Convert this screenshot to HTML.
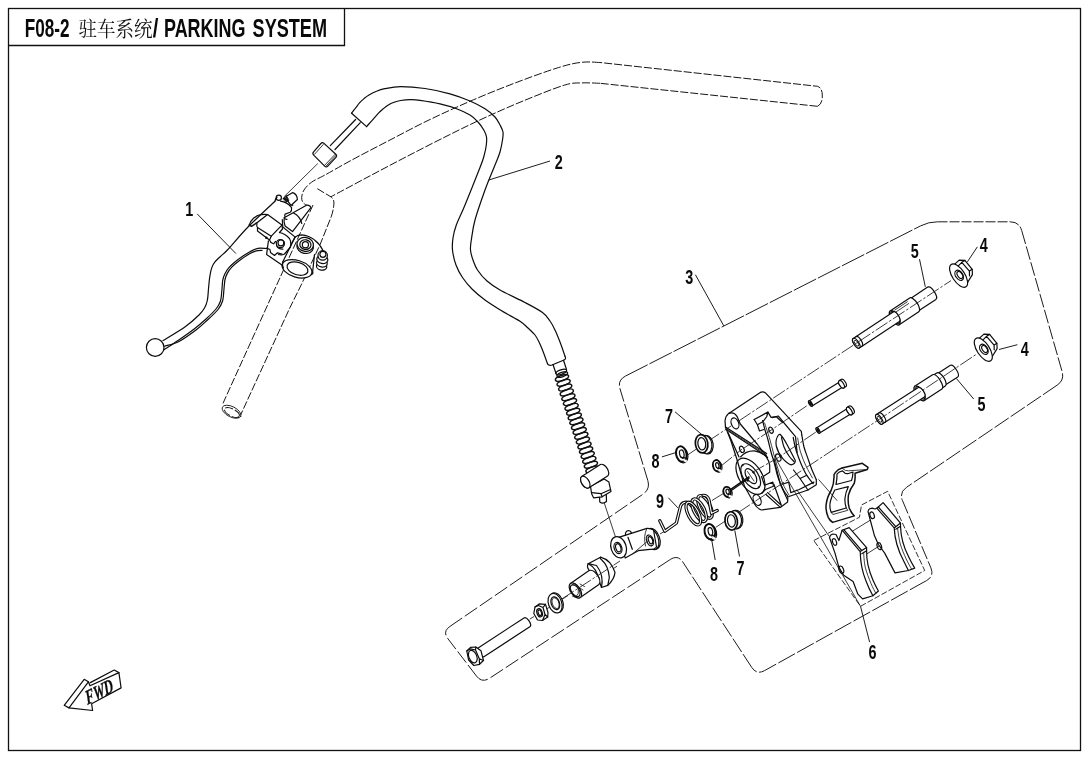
<!DOCTYPE html>
<html><head><meta charset="utf-8"><title>F08-2 PARKING SYSTEM</title>
<style>
html,body{margin:0;padding:0;background:#fff;}
body{width:1090px;height:760px;overflow:hidden;font-family:"Liberation Sans",sans-serif;}
svg{display:block;position:absolute;left:0;top:0;will-change:transform;}
.s{fill:none;stroke:#0c0c0c;stroke-width:1.2;stroke-linecap:round;stroke-linejoin:round;}
.b{fill:none;stroke:#111;stroke-width:1.5;stroke-linecap:round;stroke-linejoin:round;}
.t{fill:none;stroke:#1a1a1a;stroke-width:.85;stroke-linecap:round;stroke-linejoin:round;}
.w{fill:#fff;}
.k{fill:#111;}
.fr{fill:none;stroke:#111;stroke-width:1.3;}
.hb{fill:none;stroke:#151515;stroke-width:1;stroke-dasharray:8 2;}
.bd{fill:none;stroke:#1c1c1c;stroke-width:1;}
.pd{fill:none;stroke:#1a1a1a;stroke-width:.9;stroke-dasharray:6 2;}
.cl{fill:none;stroke:#1a1a1a;stroke-width:.85;stroke-dasharray:14 2 2.5 2;}
.ld{fill:none;stroke:#111;stroke-width:.95;}
text{font-family:"Liberation Sans",sans-serif;font-weight:bold;fill:#0a0a0a;}
.n{font-size:21px;}
.ti{font-size:26px;}
</style></head><body>
<svg width="1090" height="760" viewBox="0 0 1090 760">
<rect x="0" y="0" width="1090" height="760" fill="#fff"/>

<g id="frame">
<rect class="fr" x="8.5" y="8.5" width="1072" height="742"/>
<path class="fr" d="M8.5,45.5H344.5V8.5"/>
<text class="ti" x="24.8" y="36.7" textLength="44.8" lengthAdjust="spacingAndGlyphs">F08-2</text>
<text x="78.6" y="36.2" style="font-family:'Liberation Serif','Noto Serif CJK SC',serif;font-weight:normal;font-size:21px;fill:#111" textLength="74" lengthAdjust="spacingAndGlyphs">驻车系统</text>
<text class="ti" x="152.8" y="36.7" textLength="5.6" lengthAdjust="spacingAndGlyphs">/</text>
<text class="ti" x="164" y="36.7" textLength="81.4" lengthAdjust="spacingAndGlyphs">PARKING</text>
<text class="ti" x="252.6" y="36.7" textLength="74.4" lengthAdjust="spacingAndGlyphs">SYSTEM</text>
</g>
<g id="handlebar">
<path class="hb" d="M817.5,106.3 Q822.5,104 822.3,96 Q822.5,88 817.5,86.3 L600,62.5"/>
<path class="hb" d="M600,62.5C597,62.5 588.7,61.4 581.8,62.3C574.9,63.1 569.5,64.1 558.4,67.6C547.3,71 529.2,77.6 515,83C500.8,88.4 487.4,93.8 473.2,99.9C459,106 444.2,112.7 430,119.5C415.8,126.3 401.4,134.1 388.1,141C374.8,147.9 360.5,155.3 350,161C339.5,166.7 331.4,171.5 325,175C318.6,178.5 315.2,179.6 311.7,182.1C308.2,184.6 305.7,187.4 304,190C302.3,192.6 301.9,195.4 301.7,197.5C301.5,199.6 302.1,201.2 303,202.5C303.9,203.8 306.3,205 307,205.5"/>
<path class="hb" d="M817.5,106.3 L600,83.3"/>
<path class="hb" d="M600,83.3C597,83.2 587.8,82.6 581.8,82.9C575.8,83.2 574,82.2 564.2,85.2C554.4,88.2 536.7,95.4 523,101C509.3,106.6 495.5,112.8 482,119C468.5,125.2 455.2,131.9 442,138.5C428.8,145.1 415.5,152 402.8,158.6C390.1,165.2 378,171.6 366,178C354,184.4 336.7,193.7 330.8,196.8"/>
<path class="hb" d="M317.3,188.7 L331.2,197 Q334.5,200 333.9,204 Q333.5,210 331.2,216.8 L320.1,244.5 L301.6,284.1 L290,307.5 L240.5,415.2"/>
<path class="hb" d="M313,205 L223,403.3"/>
<ellipse class="t" cx="231.6" cy="411.8" rx="10.3" ry="5.2" transform="rotate(27 231.6 411.8)"/>
<ellipse class="hb" cx="231.9" cy="412.5" rx="8.2" ry="3.6" transform="rotate(27 231.9 412.5)"/>
</g>
<g id="cable">
<path class="s" d="M351.6,113.2C352.3,112.3 354.3,109.7 355.6,108C356.9,106.3 358.1,104.5 359.5,102.9C360.9,101.3 362.4,99.9 364,98.6C365.6,97.3 366.9,96.2 369,95C371.1,93.8 373.9,92.3 376.5,91.3C379.1,90.2 380.8,89.5 384.8,88.7C388.8,87.9 393.9,86.6 400.6,86.6C407.3,86.6 416.8,87.3 425,88.5C433.2,89.7 442.5,91.7 450,93.8C457.5,95.9 464.2,98.5 470,101C475.8,103.5 480.8,106.1 485,108.8C489.2,111.5 492.5,114.3 495,117C497.5,119.7 498.7,122.5 500,125C501.3,127.5 502.6,129.5 503,132C503.4,134.5 503,136.7 502.5,140C502,143.3 501.2,147.8 500,152C498.8,156.2 497.5,158.7 495,165C492.5,171.3 488.3,180.8 485,190C481.7,199.2 477.3,211.7 475,220C472.7,228.3 472.1,235 471.3,240C470.6,245 470.2,246.7 470.5,250C470.8,253.3 471.8,256.7 473,260C474.2,263.3 475.2,266.5 477.5,270C479.8,273.5 483.2,277.7 487,281C490.8,284.3 493.7,286.4 500,290C506.3,293.6 517.9,298.8 525,302.5C532.1,306.2 538.3,309.4 542.5,312.5C546.7,315.6 547.9,318.1 550,321C552.1,323.9 553.3,326.5 555,330C556.7,333.5 558.3,337.6 560,342C561.7,346.4 564.2,353.9 565,356.3"/>
<path class="s" d="M366.6,126.6C367.6,125.5 370.6,122 372.6,119.8C374.6,117.6 376.8,115 378.5,113.2C380.2,111.4 381.4,110.3 383,109C384.6,107.7 386.1,106.4 387.9,105.3C389.7,104.2 391.9,103.1 394,102.3C396.1,101.5 397.9,100.9 400.6,100.5C403.3,100.1 406.8,99.7 410,99.7C413.2,99.7 415,99.6 420,100.3C425,101 434,102.4 440,103.8C446,105.2 451,106.6 456,108.5C461,110.4 466.3,112.8 470,115C473.7,117.2 475.7,119.5 478,122C480.3,124.5 482.4,127.5 483.8,130C485.2,132.5 486.1,134.5 486.5,137C486.9,139.5 486.7,141.8 486.3,145C485.9,148.2 485.1,152.2 484,156C482.9,159.8 483.2,159.3 480,167.5C476.8,175.7 468.9,195.4 465,205C461.1,214.6 458.3,219.5 456.3,225C454.3,230.5 453.6,233.8 453,238C452.4,242.2 452,245.5 452.5,250C453,254.5 454.3,260.4 456,265C457.7,269.6 459.8,273.5 462.5,277.5C465.2,281.5 468.2,285.2 472,289C475.8,292.8 480,296.3 485,300C490,303.7 496.2,307.4 502,311C507.8,314.6 515.7,318.5 520,321.3C524.3,324.1 525.5,325.7 528,328C530.5,330.3 533.2,332.7 535,335C536.8,337.3 537.8,339.5 539,342C540.2,344.5 541.1,346.4 542.5,350C543.9,353.6 546.7,361.5 547.5,363.8"/>
<path class="s" d="M351.6,113.2 L366.6,126.6"/>
<path class="s" d="M547.5,363.8 Q549,366 552,365 L564,360 Q566.5,359 565,356.3"/>
<path class="s" d="M553,364.5 L556,373.5 M563.5,360.3 L566.5,369.5"/>
<ellipse class="s" cx="561.3" cy="372" rx="5.6" ry="2.2" transform="rotate(-19 561.3 372)"/>
<ellipse class="s" cx="562.3" cy="374.5" rx="5.6" ry="2.2" transform="rotate(-19 562.3 374.5)"/>
<path class="s" d="M355.6,119.5 L330.3,145.6"/>
<path class="s" d="M360.3,122.7 L335,149.5"/>
<path class="s w" d="M313.7,155.1 Q312.1,153.5 313.6,151.9 L320.9,143.5 Q322.4,141.9 324,143.4 L335.8,154.3 Q337.4,155.8 335.9,157.4 L327.8,166.1 Q326.3,167.7 324.7,166.1 Z"/>
<path class="t" d="M314.6,154.2 L323.3,144.5 M324.2,165.8 L335,154.4 M325.6,166.6 L336,155.3"/>
<path class="t" d="M317.5,163.8 L284.5,196.3"/>
</g>
<g id="cspring">
<ellipse class="b" cx="562" cy="378" rx="6.9" ry="2.6" transform="rotate(-19 562 378)"/>
<ellipse class="b" cx="563.6" cy="382.8" rx="6.9" ry="2.6" transform="rotate(-19 563.6 382.8)"/>
<ellipse class="b" cx="565.2" cy="387.6" rx="6.9" ry="2.6" transform="rotate(-19 565.2 387.6)"/>
<ellipse class="b" cx="566.8" cy="392.4" rx="6.9" ry="2.6" transform="rotate(-19 566.8 392.4)"/>
<ellipse class="b" cx="568.4" cy="397.3" rx="6.9" ry="2.6" transform="rotate(-19 568.4 397.3)"/>
<ellipse class="b" cx="570" cy="402.1" rx="6.9" ry="2.6" transform="rotate(-19 570 402.1)"/>
<ellipse class="b" cx="571.6" cy="406.9" rx="6.9" ry="2.6" transform="rotate(-19 571.6 406.9)"/>
<ellipse class="b" cx="573.2" cy="411.7" rx="6.9" ry="2.6" transform="rotate(-19 573.2 411.7)"/>
<ellipse class="b" cx="574.8" cy="416.5" rx="6.9" ry="2.6" transform="rotate(-19 574.8 416.5)"/>
<ellipse class="b" cx="576.4" cy="421.3" rx="6.9" ry="2.6" transform="rotate(-19 576.4 421.3)"/>
<ellipse class="b" cx="578.1" cy="426.2" rx="6.9" ry="2.6" transform="rotate(-19 578.1 426.2)"/>
<ellipse class="b" cx="579.7" cy="431" rx="6.9" ry="2.6" transform="rotate(-19 579.7 431)"/>
<ellipse class="b" cx="581.3" cy="435.8" rx="6.9" ry="2.6" transform="rotate(-19 581.3 435.8)"/>
<ellipse class="b" cx="582.9" cy="440.6" rx="6.9" ry="2.6" transform="rotate(-19 582.9 440.6)"/>
<ellipse class="b" cx="584.5" cy="445.4" rx="6.9" ry="2.6" transform="rotate(-19 584.5 445.4)"/>
<ellipse class="b" cx="586.1" cy="450.2" rx="6.9" ry="2.6" transform="rotate(-19 586.1 450.2)"/>
<ellipse class="b" cx="587.7" cy="455.1" rx="6.9" ry="2.6" transform="rotate(-19 587.7 455.1)"/>
<ellipse class="b" cx="589.3" cy="459.9" rx="6.9" ry="2.6" transform="rotate(-19 589.3 459.9)"/>
<ellipse class="b" cx="590.9" cy="464.7" rx="6.9" ry="2.6" transform="rotate(-19 590.9 464.7)"/>
<ellipse class="b" cx="592.5" cy="469.5" rx="6.9" ry="2.6" transform="rotate(-19 592.5 469.5)"/>
</g>
<g id="cfit">
<path class="s w" d="M590.5,486.3 L591.6,493.7 L593.7,497.9 L602.1,496.8 L611,491.6 L608.9,482.1 L604.2,479Z"/>
<path class="s" d="M591.6,492.6 L601,493.7 L610.5,489.5 M601,493.7 L602.1,496.8"/>
<path class="s" d="M599.5,497.3 L599.8,502 Q603,504.3 606.5,501.6 L606.3,494.6"/>
<path class="s w" d="M588.9,487.8 L607.6,476 A3.7,6.7 -32.3 0 0 600.4,464.6 L581.7,476.4 A3.7,6.7 -32.3 0 0 588.9,487.8 Z"/>
<ellipse class="s w" cx="585.3" cy="482.1" rx="3.7" ry="6.7" transform="rotate(-32.3 585.3 482.1)"/>
<path class="t" d="M604.4,503.4 L615.5,537"/>
</g>
<g id="lever">
<path class="s" d="M275,201.2C270.5,205.5 255.9,218.9 248,227C240.1,235.1 231.9,245.2 227.4,250C222.9,254.8 222.9,254.1 220.8,256.1C218.7,258.1 216.3,260.3 214.8,262.1C213.3,263.9 212.7,265.3 212,267.1C211.3,268.9 210.8,270.9 210.4,273.1C210,275.3 209.6,277.5 209.3,280.3C209,283.1 208.7,286.6 208.4,290C208.1,293.4 208,297.5 207.3,300.5C206.7,303.5 205.9,305.6 204.5,308C203.1,310.4 202.2,311.9 199,315C195.8,318.1 191.2,322.5 185.2,326.8C179.2,331.1 166.8,338.3 163.1,340.6"/>
<path class="s" d="M266.5,248.5C265.1,248.5 260.8,247.8 258,248.3C255.2,248.8 252.6,250.3 250,251.7C247.4,253.1 245,254.8 242.3,256.6C239.6,258.4 236.3,260.8 234,262.7C231.7,264.6 230.1,266.3 228.5,268.2C226.9,270.1 225.7,272.2 224.7,274.2C223.7,276.2 223.2,277.7 222.7,280.3C222.2,282.9 222.3,286.6 221.9,290C221.5,293.4 221.5,297.8 220.5,301C219.5,304.2 218.4,306 216,309C213.6,312 209.6,315.7 206,319C202.4,322.3 199.2,325.1 194.5,328.7C189.8,332.3 183.1,337 178,340.5C172.9,344 166.3,348.2 164,349.8"/>
<path class="s" d="M262,250.4C260.9,250.5 257.5,250.7 255.5,251.2C253.5,251.7 252.7,252 250,253.6C247.3,255.2 242.5,258.2 239.5,260.5C236.5,262.8 233.8,265 231.8,267.1C229.8,269.2 228.5,271 227.4,273.1C226.3,275.2 225.6,276.7 225,279.5C224.4,282.3 224.3,286.4 223.9,290C223.5,293.6 223.6,297.8 222.6,301C221.6,304.2 220.5,306.3 218,309.5C215.5,312.7 211.2,316.6 207.5,320C203.8,323.4 200.8,326.4 196,330C191.2,333.6 184.2,338.8 179,341.5C173.8,344.2 166.9,345.4 164.5,346.2"/>
<circle class="s w" cx="155.2" cy="347.5" r="8.8"/>
<path class="s" d="M249.2,225.1 Q250.5,221 253.5,218.3 L257.5,215.5 Q262,214 267.6,214.5"/>
<path class="b" d="M249.2,225.1 L251.5,226.3 L256.5,223"/>
<path class="s w" d="M257,222.8 L267.6,214.5 L281.9,225.1 L271.3,236.2 L257.5,227.5 Q256.3,226 257,222.8Z"/>
<path class="s" d="M257.5,227.5 L257.5,231 L269.5,240 L271.3,236.2 M269.5,240 L271,242.5"/>
<path class="s" d="M281.9,225.1 L282.5,229 L279.5,232.5"/>
<circle class="k" cx="266.3" cy="237.8" r="1.3"/>
<circle class="s" cx="278.8" cy="197.7" r="2.6"/>
<path class="s" d="M275,201.2 Q275.2,198.5 277,197.3"/>
<path class="s" d="M280.5,201.2 Q287,202 291.6,207.6 Q292,211 290.2,212.2 L285.1,214.1 Q284,216 285.6,217.3"/>
<path class="s" d="M283.5,198.3 Q289.5,201 292.8,205.5"/>
<path class="s w" d="M286.4,196.3 L292.8,192.6 Q297,194 297.4,199.5 L291,205.5 Q287.5,202 286.4,196.3Z"/>
<path class="s" d="M283.2,198.8 L286.6,195.9 M284.1,199.9 L287.3,197.3 M284.9,201.1 L288,198.7 M285.7,202.2 L288.7,200"/>
<path class="s w" d="M284.2,217.8 L306.5,205.2 Q309.8,204.8 310.9,207.6 L292.5,231.6 L285.1,226 Q283.6,222 284.2,217.8Z"/>
<path class="s" d="M293.5,213 Q300,216 301.8,223.5"/>
<path class="s" d="M284.2,217.8 Q285,219.5 287,219.3"/>
<path class="s" d="M282.3,219.5 L282.8,227 L295.2,237.1"/>
<path class="s" d="M279.5,232.5 Q285,233.5 289.5,238.5 Q291.5,242 290.5,247 L284.5,254 Q281.5,255.5 278.5,254.5"/>
<path class="s" d="M268.4,240.8 L266.6,254.6 L282.7,265.6"/>
<path class="s" d="M266.6,248.1 L270,249.5 L270.5,252.5 L274.5,255.5 L277.5,252.8 L282,254"/>
<path class="s" d="M271,242.5 L273.5,243.8 L275.5,241.5"/>
<circle class="s w" cx="280.4" cy="243.6" r="4.1"/>
<path class="s" d="M276.5,245.5 Q278,249.3 282.8,249.2"/>
<circle class="s" cx="280.9" cy="242.9" r="2.9"/>
<path class="s" d="M282.7,262 L295.1,237.1 Q298,234.8 301.6,234.8 Q309,235.5 314.5,239.9 Q320,244 322.7,250 L322.7,252 M314.5,254.6 L312.6,272.1"/>
<path class="s" d="M295.1,237.1 L290.8,245"/>
<ellipse class="s w" cx="297" cy="268.8" rx="15.4" ry="8.4" transform="rotate(17 297 268.8)"/>
<ellipse class="s" cx="297.5" cy="268.6" rx="10.8" ry="6.2" transform="rotate(17 297.5 268.6)"/>
<path class="s" d="M282.7,262 Q282,266 283.5,268"/>
<path class="s" d="M311.5,274.5 Q313.5,273.5 312.6,272.1"/>
<ellipse class="s w" cx="305.2" cy="246.8" rx="8.3" ry="6.6" transform="rotate(10 305.2 246.8)"/>
<ellipse class="s w" cx="305.2" cy="244.4" rx="8.3" ry="6.9" transform="rotate(10 305.2 244.4)"/>
<ellipse class="s" cx="305.4" cy="244.6" rx="5.6" ry="4.8" transform="rotate(10 305.4 244.6)"/>
<circle class="s" cx="305.4" cy="244.7" r="3.1"/>
<ellipse class="s w" cx="321.6" cy="266.5" rx="5.2" ry="3.6" transform="rotate(10 321.6 266.5)"/>
<ellipse class="s w" cx="321.9" cy="263.2" rx="5.4" ry="3.8" transform="rotate(10 321.9 263.2)"/>
<ellipse class="s w" cx="322.3" cy="259.5" rx="5.6" ry="4" transform="rotate(10 322.3 259.5)"/>
<circle class="s w" cx="322.7" cy="255.4" r="4.7"/>
<circle class="s" cx="322.9" cy="254.3" r="3"/>
</g>
<g id="boundary">
<path class="bd" style="stroke-dasharray:25 2" d="M625.4,376.1 L920.5,225.9 Q928.5,221.8 937.5,221.8"/>
<path class="bd" style="stroke-dasharray:10 2" d="M937.5,221.8 L1010.2,221.8 Q1019.2,221.8 1021.7,230.5"/>
<path class="bd" style="stroke-dasharray:14 2.5" d="M1021.7,230.5 L1062.1,371.5 Q1064.6,380.2 1057.1,385.2"/>
<path class="bd" style="stroke-dasharray:17 2.5" d="M1057.1,385.2 L906.5,487.3 Q899,492.3 902.5,500.6"/>
<path class="bd" style="stroke-dasharray:14 2.5" d="M902.5,500.6 L930.9,567.9 Q934.4,576.2 926.5,580.6"/>
<path class="bd" style="stroke-dasharray:19 2.5" d="M926.5,580.6 L764.6,670.6 Q756.7,675 751.8,667.5"/>
<path class="bd" style="stroke-dasharray:16 2.5" d="M751.8,667.5 L682.8,562 Q677.9,554.5 670.4,559.4"/>
<path class="bd" style="stroke-dasharray:15 3.2" d="M670.4,559.4 L489.5,678.3 Q482,683.2 476.5,676.1"/>
<path class="bd" style="stroke-dasharray:14 3" d="M476.5,676.1 L447.9,638.7 Q442.4,631.6 449.8,626.5"/>
<path class="bd" style="stroke-dasharray:15 3.2" d="M449.8,626.5 L643,494.2 Q650.4,489.1 647.8,480.5"/>
<path class="bd" style="stroke-dasharray:14 2.5" d="M647.8,480.5 L620,388.8 Q617.4,380.2 625.4,376.1"/>
</g>
<g id="pins5">
<path class="s w" d="M918.3,311 L935.9,299.4 A3.1,7.4 -33.5 0 0 927.7,287.1 L910.2,298.7 A3.1,7.4 -33.5 0 0 918.3,311 Z"/>
<path class="s w" d="M899.2,324.7 L918.8,311.7 A3.4,8.2 -33.5 0 0 909.7,298 L890.1,311 A3.4,8.2 -33.5 0 0 899.2,324.7 Z"/>
<ellipse class="s w" cx="894.7" cy="317.8" rx="3.4" ry="8.2" transform="rotate(-33.5 894.7 317.8)"/>
<ellipse class="s" cx="895.5" cy="317.3" rx="2.9" ry="6.9" transform="rotate(-33.5 895.5 317.3)"/>
<path class="s w" d="M859.4,347.9 L899.4,321.4 A2.4,5.6 -33.5 0 0 893.2,312 L853.2,338.5 A2.4,5.6 -33.5 0 0 859.4,347.9 Z"/>
<ellipse class="s w" cx="856.3" cy="343.2" rx="2.4" ry="5.6" transform="rotate(-33.5 856.3 343.2)"/>
<ellipse class="t" cx="856.5" cy="343.2" rx="1.5" ry="3.4" transform="rotate(-33.5 856.5 343.2)"/>
<path class="s" d="M855.9,336.7 A2.4,5.6 -33.5 0 1 862.1,346.1"/>
<path class="t" d="M894.8,310.1 L907.3,301.8"/>
<path class="t" d="M896.1,311.9 L908.6,303.6"/>
<path class="s w" d="M944.8,385.3 L957.8,376.9 A2.9,6.9 -32.8 0 0 950.4,365.3 L937.3,373.7 A2.9,6.9 -32.8 0 0 944.8,385.3 Z"/>
<path class="s w" d="M941.5,388.5 L945.3,386 A3.3,7.8 -32.8 0 0 936.8,372.9 L933.1,375.3 A3.3,7.8 -32.8 0 0 941.5,388.5 Z"/>
<path class="s w" d="M924.3,400.5 L941.9,389.1 A3.6,8.6 -32.8 0 0 932.6,374.7 L915,386.1 A3.6,8.6 -32.8 0 0 924.3,400.5 Z"/>
<ellipse class="s w" cx="919.6" cy="393.3" rx="3.6" ry="8.6" transform="rotate(-32.8 919.6 393.3)"/>
<ellipse class="s" cx="920.4" cy="392.8" rx="3" ry="7.2" transform="rotate(-33 920.4 392.8)"/>
<path class="s w" d="M882.3,424 L924.4,396.9 A2.4,5.6 -32.8 0 0 918.3,387.5 L876.3,414.6 A2.4,5.6 -32.8 0 0 882.3,424 Z"/>
<ellipse class="s w" cx="879.3" cy="419.3" rx="2.4" ry="5.6" transform="rotate(-32.8 879.3 419.3)"/>
<ellipse class="t" cx="879.5" cy="419.3" rx="1.5" ry="3.4" transform="rotate(-33 879.5 419.3)"/>
<path class="s" d="M878.9,412.9 A2.4,5.6 -33 0 1 885.1,422.3"/>
</g>
<g id="nuts4">
<path class="s w" d="M953.9,264.9L959.2,260.1L964.9,260.4L972.2,269.3L972.4,274.6L966.6,284"/>
<path class="s" d="M956.8,267.4L961.8,262.3L964.9,260.4 M961.8,262.3L969.4,271.1L972.2,269.3 M969.4,271.1L969.5,275.8"/>
<ellipse class="s w" cx="958.6" cy="275.6" rx="6.2" ry="13.4" transform="rotate(-33.5 958.6 275.6)"/>
<ellipse class="s" cx="959.2" cy="275.3" rx="3.6" ry="5.6" transform="rotate(-33.5 959.2 275.3)"/>
<ellipse class="s" cx="959.9" cy="275" rx="2.3" ry="3.9" transform="rotate(-33.5 959.9 275)"/>
<path class="s w" d="M978.6,338.9L983.9,334.1L989.6,334.4L996.9,343.3L997.1,348.6L991.3,358"/>
<path class="s" d="M981.5,341.4L986.5,336.3L989.6,334.4 M986.5,336.3L994.1,345.1L996.9,343.3 M994.1,345.1L994.2,349.8"/>
<ellipse class="s w" cx="983.3" cy="349.6" rx="6.2" ry="13.4" transform="rotate(-33.5 983.3 349.6)"/>
<ellipse class="s" cx="983.9" cy="349.3" rx="3.6" ry="5.6" transform="rotate(-33.5 983.9 349.3)"/>
<ellipse class="s" cx="984.6" cy="349" rx="2.3" ry="3.9" transform="rotate(-33.5 984.6 349)"/>
</g>
<g id="labels">
<text class="n" x="185.3" y="215.9" textLength="8" lengthAdjust="spacingAndGlyphs">1</text>
<text class="n" x="554.8" y="169.4" textLength="8" lengthAdjust="spacingAndGlyphs">2</text>
<text class="n" x="685.3" y="284.4" textLength="8" lengthAdjust="spacingAndGlyphs">3</text>
<text class="n" x="979.7" y="252.3" textLength="8" lengthAdjust="spacingAndGlyphs">4</text>
<text class="n" x="1020.7" y="356.3" textLength="8" lengthAdjust="spacingAndGlyphs">4</text>
<text class="n" x="910.7" y="257.6" textLength="8" lengthAdjust="spacingAndGlyphs">5</text>
<text class="n" x="977.6" y="410.6" textLength="8" lengthAdjust="spacingAndGlyphs">5</text>
<text class="n" x="868.5" y="659.2" textLength="8" lengthAdjust="spacingAndGlyphs">6</text>
<text class="n" x="665" y="423.2" textLength="8" lengthAdjust="spacingAndGlyphs">7</text>
<text class="n" x="736.4" y="575.1" textLength="8" lengthAdjust="spacingAndGlyphs">7</text>
<text class="n" x="651.4" y="468" textLength="8" lengthAdjust="spacingAndGlyphs">8</text>
<text class="n" x="710" y="581.1" textLength="8" lengthAdjust="spacingAndGlyphs">8</text>
<text class="n" x="656.1" y="507.8" textLength="8" lengthAdjust="spacingAndGlyphs">9</text>
<path class="ld" d="M197.2,213.9 L235.9,253.5"/>
<path class="ld" d="M550,161 L488.8,180"/>
<path class="ld" d="M695.4,274.7 L723.8,325.9"/>
<path class="ld" d="M977.4,246.8 L967.4,261.8"/>
<path class="ld" d="M1017.4,344.7 L999,349.5"/>
<path class="ld" d="M919.5,259.2 L925.3,286.8"/>
<path class="ld" d="M956.4,378.5 L973.7,399"/>
<path class="ld" d="M869.6,642.1 L860.5,606.3"/>
<path class="ld" d="M675,411.8 L701.6,434.4"/>
<path class="ld" d="M734.8,530.4 L739.5,556.5"/>
<path class="ld" d="M661.9,456.9 L675.5,452.7"/>
<path class="ld" d="M711.7,539.9 L715.2,560"/>
<path class="ld" d="M668.4,497.8 L677.9,507.9"/>
</g>
<g id="fwd">
<path class="s w" d="M69,707.9 L88.4,681.8 L90,685.8 L118.9,672.6 L121.1,687.9 L91.6,703.7 L92.6,710.5Z"/>
<path class="s" d="M69,707.9 L64.2,705.3 L84.2,679.3 L88.4,681.8 M90.3,682.6 L114.2,670 L118.9,672.6"/>
<text x="0" y="0" transform="translate(87.6,704.8) rotate(-27) skewX(-12)" style="font-family:'Liberation Serif',serif;font-weight:bold;font-style:italic;font-size:19.5px;stroke:#0a0a0a;stroke-width:.35" textLength="30" lengthAdjust="spacingAndGlyphs">FWD</text>
</g>
<g id="caliper">
<path class="w" d="M725.5,427 L725,420.8 Q725.5,416 728.7,413.4 L760.3,392.4 Q763,391 765.5,392.9 L801.3,431.3 L802,436 Q806,458 816.3,479.5 L816.3,484.7 L807.9,490 L789,496.5 L787.6,502 L780.3,507.4 L761.3,510 Q757,508 754,503.2 L744.5,486.3 L737,462Z"/>
<path class="s" d="M725.5,427.1 L725,420.8 Q725.5,416 728.7,413.4 L760.3,392.4 Q763,391 765.5,392.9 L801.3,431.3 L801.8,435"/>
<path class="s" d="M728.7,413.4 Q734,411.5 737.1,416.6 L740.3,424 L757.1,444 L767.6,457.6"/>
<ellipse class="s" cx="735" cy="423.4" rx="3.6" ry="5.7" transform="rotate(-22 735 423.4)"/>
<path class="s" d="M725.5,427.1 L766.6,453.4 M726.2,429.6 L766.2,456 "/>
<path class="t" d="M725.8,428.3 L766.4,454.7"/>
<path class="s" d="M725.5,427.1 L731,441 L737.3,460.5"/>
<path class="s" d="M728,432.5 L739,457"/>
<ellipse class="s" cx="741.9" cy="449.3" rx="2.1" ry="3.3" transform="rotate(-25 741.9 449.3)"/>
<path class="s" d="M754.2,419.5 L767.9,412.1 L771.1,417.4 L776.3,416.7 L782.6,422.6"/>
<path class="s" d="M754.2,419.5 L757.4,424.7 L762.8,421.8 M757.4,424.7 L759.5,431 L763.7,429.5 M767.9,412.1 L766.8,416.5 L762.8,421.8"/>
<path class="s" d="M772.4,417.6 L778.2,416 L795.5,436.6 L797.1,452.4"/>
<path class="s" d="M762.6,420.5C763,422.1 764.1,426.8 765,430C765.9,433.2 766.9,435.8 767.9,439.5C768.9,443.2 770,448.1 771,452C772,455.9 773.2,458.9 774.2,462.6C775.2,466.3 776,470.5 777,474C778,477.5 779.3,480.9 780.5,483.7C781.7,486.5 782.8,488.9 784,491C785.2,493.1 787.2,495.4 787.9,496.3"/>
<path class="t" d="M764.6,423C765.5,425.8 768.1,433.3 770,440C771.9,446.7 774.1,455.8 776.2,463C778.3,470.2 780.4,477.7 782.5,483C784.6,488.3 787.9,493 789,495"/>
<ellipse class="s" cx="771" cy="430.2" rx="2" ry="3.2" transform="rotate(-25 771 430.2)"/>
<ellipse class="s" cx="778.3" cy="457.6" rx="2.3" ry="3.8" transform="rotate(-25 778.3 457.6)"/>
<path class="s" d="M778.4,435 Q775,440 776.3,446 Q778,453 782.6,458.4 Q787,463.5 791.1,464.9 Q795.5,464 795.3,460.5 Q791,452 787,444.5 Q783,437 780,434.2 Z"/>
<path class="s" d="M781.5,437.5C781.9,439.1 782.8,443.9 784,447C785.2,450.1 787.3,453.6 789,456C790.7,458.4 793.2,460.6 794,461.5"/>
<path class="s" d="M801.8,435C802.2,437 803,443.1 804,447C805,450.9 806.6,454.6 807.9,458.4C809.2,462.2 810.6,466.5 812,470C813.4,473.5 815.6,477.9 816.3,479.5"/>
<path class="s" d="M816.3,479.5 L816.3,484.7 L807.9,490 L789,496.5"/>
<path class="s" d="M793.2,437.4C793.5,438.8 794.3,443.2 795,446C795.7,448.8 796.2,450.9 797.4,454.2C798.6,457.5 800.4,462.5 802,466C803.6,469.5 804.9,472.4 806.8,475.3C808.7,478.2 812.1,482.3 813.2,483.7"/>
<path class="t" d="M797.6,438C798.1,440.3 799.1,447.3 800.5,452C801.9,456.7 804,461.7 806,466C808,470.3 811.4,476 812.5,478"/>
<path class="s" d="M806.8,475.3 L800,478.5 L793.5,470 M800,478.5 L807.9,490"/>
<path class="s" d="M740.6,456.8 Q746,450.5 754.3,450.8 Q762,452 766.3,456.8 Q769,460.5 769.7,465.3 L769.7,472.2 L761.5,477.5"/>
<ellipse class="s w" cx="750.5" cy="476.3" rx="11.3" ry="20.3" transform="rotate(-33 750.5 476.3)"/>
<ellipse class="s" cx="750.7" cy="476.2" rx="7.5" ry="14" transform="rotate(-33 750.7 476.2)"/>
<ellipse class="s" cx="750.9" cy="476.1" rx="4.4" ry="8.4" transform="rotate(-33 750.9 476.1)"/>
<circle class="k" cx="742.6" cy="465.3" r="1"/><circle class="k" cx="758.6" cy="487.3" r="1"/><circle class="k" cx="747.8" cy="480.6" r="1.2"/><circle class="k" cx="753.6" cy="472.6" r="1.1"/>
<path class="t" d="M747.5,471.5 L754,481"/>
<path class="s" d="M737.3,460.5 L744.5,486.3 L754,503.2 Q757,508.5 761.3,510 L780.3,507.4 L787.6,502.1 L787.9,496.3"/>
<ellipse class="s" cx="757.1" cy="500" rx="3.6" ry="5.7" transform="rotate(-25 757.1 500)"/>
<path class="s" d="M761.5,476.5 L764.5,485.3 L772.9,482.1 L773.4,486.3 L765.5,489.5 L762,493"/>
<path class="s" d="M767.6,492.6 L781.3,505.3 L773.9,484.2 M766,494.5 L780.3,507.4"/>
<path class="s" d="M773.9,458.9 L780.3,484.2 L787.6,500"/>
<path class="s" d="M782.4,484.2 L788.7,482.1 L790.8,492.6 L799.2,489.5 L813.9,482.1"/>
</g>
<g id="smallpins">
<path class="s w" d="M812.1,406.1 L843.6,386.6 A1.4,3.1 -31.8 0 0 840.3,381.4 L808.9,400.9 A1.4,3.1 -31.8 0 0 812.1,406.1 Z"/>
<ellipse class="s w" cx="810.5" cy="403.5" rx="1.4" ry="3.1" transform="rotate(-31.8 810.5 403.5)"/>
<path class="s w" d="M843.8,387.9 L845.9,386.6 A2.1,4.3 -31.8 0 0 841.4,379.3 L839.3,380.6 A2.1,4.3 -31.8 0 0 843.8,387.9 Z"/>
<ellipse class="s w" cx="841.5" cy="384.3" rx="2.1" ry="4.3" transform="rotate(-31.8 841.5 384.3)"/>
<ellipse class="b" cx="810.5" cy="403.5" rx="0.7" ry="1.6" transform="rotate(-32 810.5 403.5)"/>
<path class="s w" d="M819.6,433.1 L851.5,413.4 A1.4,3.1 -31.8 0 0 848.2,408.1 L816.4,427.9 A1.4,3.1 -31.8 0 0 819.6,433.1 Z"/>
<ellipse class="s w" cx="818" cy="430.5" rx="1.4" ry="3.1" transform="rotate(-31.8 818 430.5)"/>
<path class="s w" d="M851.7,414.7 L853.8,413.3 A2.1,4.3 -31.8 0 0 849.3,406 L847.2,407.3 A2.1,4.3 -31.8 0 0 851.7,414.7 Z"/>
<ellipse class="s w" cx="849.4" cy="411" rx="2.1" ry="4.3" transform="rotate(-31.8 849.4 411)"/>
<ellipse class="b" cx="818" cy="430.5" rx="0.7" ry="1.6" transform="rotate(-32 818 430.5)"/>
</g>
<g id="clines">
<path class="cl" d="M687.4,455.1 L697,448.6 M707.5,441.6 L731,426 M739,420.8 L856.3,343.2 L951,280.6"/>
<path class="cl" d="M721,466 L741.9,449.3 M744,448 L771,430.2 L808,405"/>
<path class="cl" d="M752,472.5 L778.3,457.6 L816,432"/>
<path class="cl" d="M715.8,527.3 L725,521.2 M738.3,512.5 L757.1,500 L879.3,419.3 L976,354.5"/>
</g>
<g id="bush7">
<ellipse class="s w" cx="706.9" cy="444.8" rx="6.3" ry="9.2" transform="rotate(-8 706.9 444.8)"/>
<ellipse class="s w" cx="705.6" cy="444.6" rx="6.3" ry="9.2" transform="rotate(-8 705.6 444.6)"/>
<ellipse cx="701.6" cy="443.8" rx="6.2" ry="9.2" transform="rotate(-8 701.6 443.8)" fill="#fff" stroke="#0c0c0c" stroke-width="1.7"/>
<ellipse class="s" cx="701.8" cy="443.8" rx="3.9" ry="6.2" transform="rotate(-8 701.8 443.8)"/>
<ellipse class="s w" cx="736.5" cy="519.4" rx="6.3" ry="9.2" transform="rotate(-8 736.5 519.4)"/>
<ellipse class="s w" cx="735.2" cy="519.8" rx="6.3" ry="9.2" transform="rotate(-8 735.2 519.8)"/>
<ellipse cx="731.2" cy="520.9" rx="6.2" ry="9.2" transform="rotate(-8 731.2 520.9)" fill="#fff" stroke="#0c0c0c" stroke-width="1.7"/>
<ellipse class="s" cx="731.4" cy="520.9" rx="3.9" ry="6.2" transform="rotate(-8 731.4 520.9)"/>
</g>
<g id="eclips">
<ellipse class="s w" cx="682.6" cy="455.1" rx="5.2" ry="7.8" transform="rotate(-12 682.6 455.1)"/>
<ellipse cx="681.3" cy="454" rx="5.2" ry="7.8" transform="rotate(-12 681.3 454)" fill="#fff" stroke="#0c0c0c" stroke-width="2.0"/>
<ellipse class="s" cx="681.8" cy="453.8" rx="2.2" ry="3.9" transform="rotate(-12 681.8 453.8)"/>
<path d="M683.6,459.9 l3.2,1.6" stroke="#fff" stroke-width="2.2" fill="none"/>
<path class="s" d="M682.6,458.3 l2.4,-0.6"/>
<ellipse class="s w" cx="711.2" cy="532.7" rx="5.3" ry="7.8" transform="rotate(-12 711.2 532.7)"/>
<ellipse cx="709.9" cy="531.6" rx="5.3" ry="7.8" transform="rotate(-12 709.9 531.6)" fill="#fff" stroke="#0c0c0c" stroke-width="2.0"/>
<ellipse class="s" cx="710.4" cy="531.4" rx="2.2" ry="3.9" transform="rotate(-12 710.4 531.4)"/>
<path d="M712.3,537.5 l3.2,1.6" stroke="#fff" stroke-width="2.2" fill="none"/>
<path class="s" d="M711.2,535.9 l2.4,-0.6"/>
<ellipse class="s w" cx="718.1" cy="466.7" rx="3.8" ry="5.6" transform="rotate(-12 718.1 466.7)"/>
<ellipse cx="716.8" cy="465.6" rx="3.8" ry="5.6" transform="rotate(-12 716.8 465.6)" fill="#fff" stroke="#0c0c0c" stroke-width="1.9"/>
<ellipse class="s" cx="717.3" cy="465.4" rx="1.6" ry="2.8" transform="rotate(-12 717.3 465.4)"/>
<path d="M718.5,469.8 l3.2,1.6" stroke="#fff" stroke-width="2.2" fill="none"/>
<path class="s" d="M717.8,468.7 l2.4,-0.6"/>
<ellipse class="s w" cx="728.4" cy="492.9" rx="3.7" ry="5" transform="rotate(-12 728.4 492.9)"/>
<ellipse cx="727.1" cy="491.8" rx="3.7" ry="5" transform="rotate(-12 727.1 491.8)" fill="#fff" stroke="#0c0c0c" stroke-width="1.9"/>
<ellipse class="s" cx="727.6" cy="491.6" rx="1.6" ry="2.5" transform="rotate(-12 727.6 491.6)"/>
<path d="M728.8,495.6 l3.2,1.6" stroke="#fff" stroke-width="2.2" fill="none"/>
<path class="s" d="M728,494.6 l2.4,-0.6"/>
</g>
<path class="b" d="M730,489.8 L748.8,476.9"/>
<path class="s" d="M730.6,490.9 L749.3,478"/>
<g id="spring9">
<path class="cl" d="M660,534 L676,524.5 M723,493.7 L712,500.5"/>
<path d="M659.8,520.8 L664.9,531.2 L676.4,523 L680.6,506 Q682,502.4 686,502.2 Q689.5,502.6 691.5,506" fill="none" stroke="#0c0c0c" stroke-width="3.3" stroke-linecap="round" stroke-linejoin="round"/>
<path d="M659.8,520.8 L664.9,531.2 L676.4,523 L680.6,506 Q682,502.4 686,502.2 Q689.5,502.6 691.5,506" fill="none" stroke="#fff" stroke-width="1.1" stroke-linecap="round" stroke-linejoin="round"/>
<ellipse cx="705" cy="506.9" rx="5.2" ry="12.4" transform="rotate(-27 705 506.9)" fill="none" stroke="#0c0c0c" stroke-width="3.3"/>
<ellipse cx="705" cy="506.9" rx="5.2" ry="12.4" transform="rotate(-27 705 506.9)" fill="none" stroke="#fff" stroke-width="1.1"/>
<ellipse cx="699.1" cy="510.2" rx="5.2" ry="12.4" transform="rotate(-27 699.1 510.2)" fill="none" stroke="#0c0c0c" stroke-width="3.3"/>
<ellipse cx="699.1" cy="510.2" rx="5.2" ry="12.4" transform="rotate(-27 699.1 510.2)" fill="none" stroke="#fff" stroke-width="1.1"/>
<ellipse cx="693.3" cy="513.6" rx="5.2" ry="12.4" transform="rotate(-27 693.3 513.6)" fill="none" stroke="#0c0c0c" stroke-width="3.3"/>
<ellipse cx="693.3" cy="513.6" rx="5.2" ry="12.4" transform="rotate(-27 693.3 513.6)" fill="none" stroke="#fff" stroke-width="1.1"/>
<path d="M703,495.3 Q707.3,495 709,500 L711.5,513.3 L717.2,510.5" fill="none" stroke="#0c0c0c" stroke-width="3.3" stroke-linecap="round" stroke-linejoin="round"/>
<path d="M703,495.3 Q707.3,495 709,500 L711.5,513.3 L717.2,510.5" fill="none" stroke="#fff" stroke-width="1.1" stroke-linecap="round" stroke-linejoin="round"/>
</g>
<g id="clevis">
<path class="cl" d="M578,590 L600,577.5 M606,573.5 L617,566.2"/>
<ellipse class="s w" cx="653.2" cy="538.8" rx="6.4" ry="10.8" transform="rotate(-20 653.2 538.8)"/>
<ellipse class="s w" cx="651.9" cy="539.3" rx="6.4" ry="10.8" transform="rotate(-20 651.9 539.3)"/>
<path class="s w" d="M617.9,537.6 L646.9,528.4 Q651,528.2 653.5,530 L656.5,547 Q654.5,549.5 650,549.4 L638.2,550.7 L625.2,557.9 Z"/>
<path class="t" d="M646.9,528.4 Q643,536 645.5,546"/>
<ellipse class="s" cx="650" cy="540.4" rx="3.3" ry="5.6" transform="rotate(-20 650 540.4)"/>
<ellipse class="s" cx="650.5" cy="540.2" rx="2" ry="3.8" transform="rotate(-20 650.5 540.2)"/>
<path class="s" d="M628,537.3 L632.3,549.3"/>
<path class="s" d="M625.5,535.2 Q625,531 628.5,530.5 Q631.5,531 631.3,533.4"/>
<ellipse class="s w" cx="618.6" cy="547.3" rx="7.6" ry="10.9" transform="rotate(-18 618.6 547.3)"/>
<ellipse class="s" cx="618" cy="548" rx="3.8" ry="5.8" transform="rotate(-18 618 548)"/>
<ellipse class="s" cx="618.3" cy="547.8" rx="2.5" ry="4.2" transform="rotate(-18 618.3 547.8)"/>
<path class="t" d="M633,553.5 L647.5,541.2"/>
</g>
<g id="cam">
<path class="s w" d="M588.2,563.7 L600.5,557.2 Q611,560 615,572.4 Q614.5,579 607.8,585.4 L601.5,587.5 Q604,575 596.5,565.5 Z"/>
<path class="s" d="M588.2,563.7 Q597,568 598.8,580 L601.5,587.5 M600.5,557.2 Q599.5,558.5 601.8,560 Q608.5,566 609.3,577.5 L607.8,585.4"/>
<path class="s" d="M588.2,563.7 Q586.5,566.5 588.8,569.7"/>
<path class="s w" d="M580.3,597.5 L598.9,584.5 A4.7,8.6 -35 0 0 589.1,570.5 L570.5,583.5 A4.7,8.6 -35 0 0 580.3,597.5 Z"/>
<ellipse class="s w" cx="575.4" cy="590.5" rx="4.7" ry="8.6" transform="rotate(-35 575.4 590.5)"/>
<ellipse class="s" cx="575.2" cy="590.7" rx="3.8" ry="6.7" transform="rotate(-35 575.2 590.7)"/>
<path class="t" d="M572.5,584.5 L575.5,583.8 L578.3,587.8 L578.2,593.8 L575.3,597.3 L572.3,596"/>
<path class="t" d="M579,587.5 L583,590 M580,584 L584.5,586.5"/>
<path class="cl" d="M562,598.9 L620,561"/>
</g>
<g id="bolt">
<path class="cl" d="M529.8,619.1 L534,616.5 M546,609.3 L549.5,607.2 M561,600 L568,595.5"/>
<ellipse class="s w" cx="556.3" cy="602.6" rx="6.6" ry="10.1" transform="rotate(-20 556.3 602.6)"/>
<ellipse class="s w" cx="555.1" cy="603.2" rx="6.6" ry="10.1" transform="rotate(-20 555.1 603.2)"/>
<ellipse class="s" cx="555.3" cy="603.2" rx="4.1" ry="6.6" transform="rotate(-20 555.3 603.2)"/>
<ellipse class="t" cx="555.6" cy="603.1" rx="3.3" ry="5.6" transform="rotate(-20 555.6 603.1)"/>
<path class="s w" d="M535,607 L539.5,603.8 L545.5,604.3 L548,612.5 L547.7,617 L542.5,620.5 L537.5,620 L533.8,613.5Z"/>
<path class="s" d="M535,607 L538.5,605.5 L543,607.5 L545,614.5 L542.5,620.5 M545,614.5 L547.7,617 M543,607.5 L545.5,604.3"/>
<ellipse class="s" cx="539.6" cy="612.8" rx="2.6" ry="4.2" transform="rotate(-20 539.6 612.8)"/>
<ellipse class="s" cx="539.8" cy="612.7" rx="1.6" ry="2.9" transform="rotate(-20 539.8 612.7)"/>
<path class="s w" d="M483.9,656.7 L530.2,626.5 A2.4,5.3 -33.1 0 0 524.4,617.7 L478.1,647.9 A2.4,5.3 -33.1 0 0 483.9,656.7 Z"/>
<path class="s w" d="M466.8,651 L470.5,647.3 L475.8,647 L481,650.8 L483.5,660.5 L479.5,664.3 L473.8,665.5 L468.6,660Z"/>
<path class="s" d="M466.8,651 L470.5,648.8 L475.5,650 L479.3,658.8 L479.5,664.3 M479.3,658.8 L483.5,660.5 M475.5,650 L475.8,647"/>
<ellipse class="s" cx="472.8" cy="656.6" rx="3.9" ry="6.6" transform="rotate(-22 472.8 656.6)"/>
</g>
<g id="clip">
<path class="t" d="M818.8,479.7 L837,500.5"/>
<path class="b" d="M835.5,472.4 Q838,469 842,468.1 L862.3,463.3 L868,467.4 L867.3,469.5 L855,473.2 Q855.5,479 854.3,483.3 Q850,489 848.5,494.9 Q847.5,502 849.2,507.9 Q851,512.5 854.3,515.9 L832.6,522.4 Q829.5,520 828.2,517.3 Q825.5,511 826.1,505 Q827,497 831.1,490.5 Q834.5,483 834,474.6 Z"/>
<path class="s" d="M837,474 Q839,471.5 842.5,470.8 Q845.5,474.5 848.5,473.5 L853,472 Q852.8,477 851.5,480.5 L836,484.5 Q837.2,479.5 837,474Z"/>
<path class="s" d="M834.8,490 L848.3,486.7 Q845.5,492.5 845,498 Q844.5,503.5 846.3,508 L831.2,512.3 Q829,507 830.5,501 Q832,495 834.8,490Z"/>
<path class="t" d="M831.2,512.3 L832.8,514.5 L847.8,510.3 L846.3,508 M842,468.1 Q845.5,471.5 848.5,470.8 L867.3,469.5"/>
</g>
<g id="pads">
<path class="pd" d="M813.8,540.5 L859.4,517.3 L861.5,505 L887.6,491.3 L924.7,570.5 L860.5,606.3Z"/>
<path class="t" d="M777,461 L860.5,606.3 M797,490 L829,536"/>
<path class="t" d="M842.1,569.7 L879.2,546 M837.4,540.5 L870.5,520"/>
<path class="s w" d="M829.5,537.5 Q830,534.5 833,534 L836,534.5 L838.9,540.5 L842.1,530.2 L849.2,527.6 L866.6,547.6 L866.6,550.8 Q866.3,565 872.9,580 Q875.5,586 878.4,591 L872.9,595.7 L862.6,598.9 L857.9,594.2 L853.1,581.5 L843.7,575.2 L838.9,567.3 L835,553.1 Z"/>
<path class="s" d="M842.1,530.2 L860.2,551.6 L866.6,547.6 M843.8,529.6 L861.8,550.6 M860.2,551.6 Q860.5,568 866,581 Q869,589 872.9,595.7 M866.6,550.8 L861.8,553.8"/>
<path class="t" d="M863.6,552.3C863.9,554.8 864,561.8 865.2,567C866.4,572.2 869.2,579.1 871,583.5C872.8,587.9 875,591.7 875.8,593.3"/>
<ellipse class="s" cx="834.5" cy="542" rx="1.9" ry="3.4" transform="rotate(-20 834.5 542)"/>
<ellipse class="s" cx="841.3" cy="569.7" rx="2.2" ry="3.8" transform="rotate(-20 841.3 569.7)"/>
<path class="s w" d="M868,511.5 Q868.5,508.5 872.1,508.2 L875,509 L876.8,508.2 L883.1,502.6 L900.5,523.1 L900.5,526.3 Q901,542 908.4,556.3 Q911,562 914.7,568.1 L908.4,570.5 L895,572.9 L884.7,553.1 L878.4,544.5 L874.5,535.8 Z"/>
<path class="s" d="M876.8,508.2 L894.2,527.9 L900.5,523.1 M878.3,507 L895.8,526.7 M894.2,527.9 Q895,545 903.7,561 L908.4,570.5 M900.5,526.3 L895.8,529.3"/>
<path class="t" d="M897.5,528C898,530.7 898.8,538.8 900.3,544C901.8,549.2 904.3,554.8 906.2,559C908.1,563.2 910.8,567.6 911.7,569.3"/>
<ellipse class="s" cx="872.1" cy="515.3" rx="2.1" ry="3.4" transform="rotate(-20 872.1 515.3)"/>
<ellipse class="s" cx="879.3" cy="546.2" rx="2.1" ry="3.6" transform="rotate(-20 879.3 546.2)"/>
</g>
<!--MORE-->
</svg></body></html>
